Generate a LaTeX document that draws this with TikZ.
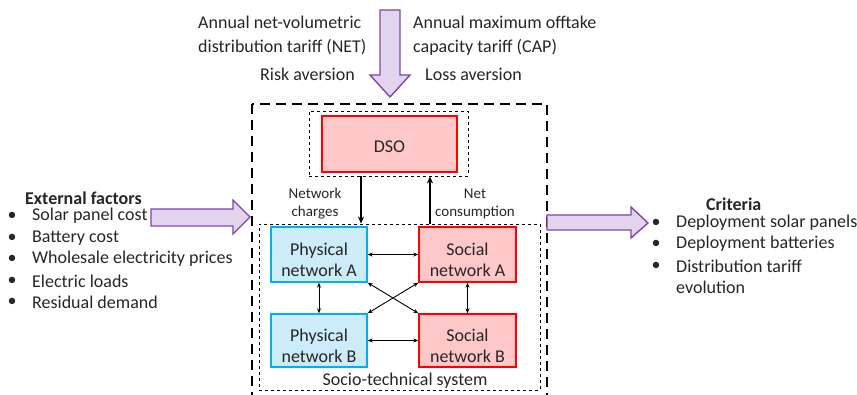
\documentclass[tikz,border=0pt]{standalone}
\usepackage{fontspec}
\setmainfont{Carlito}
\usetikzlibrary{calc}
\usetikzlibrary{arrows.meta}
\definecolor{txtgray}{RGB}{38,38,38}
\definecolor{arrowline}{RGB}{128,70,170}
\definecolor{arrowfill}{RGB}{226,212,236}
\definecolor{socline}{RGB}{255,0,0}
\definecolor{socfill}{RGB}{255,200,200}
\definecolor{phyline}{RGB}{0,176,240}
\definecolor{phyfill}{RGB}{204,236,250}
\tikzset{
  netbox/.style={line width=1.4pt,minimum width=96pt,minimum height=55pt,align=center,text=txtgray,font=\fontsize{18}{21}\selectfont},
  phybox/.style={netbox,draw=phyline,fill=phyfill},
  socbox/.style={netbox,draw=socline,fill=socfill,minimum width=97pt},
  dsobox/.style={netbox,draw=socline,fill=socfill,minimum width=135pt,minimum height=56pt},
  bigtext/.style={text=txtgray,font=\fontsize{18}{21}\selectfont,inner sep=0pt},
  smalltext/.style={text=txtgray,font=\fontsize{15}{18}\selectfont,align=center,inner sep=0pt},
  link/.style={line width=0.9pt,{Stealth[length=5pt,width=4pt]}-{Stealth[length=5pt,width=4pt]}},
  flow/.style={line width=1.8pt,-{Stealth[length=7pt,width=6pt]}},
  fatarrow/.style={draw=arrowline,fill=arrowfill,line width=1.4pt,line join=miter}
}
\newcommand{\lowtext}[2]{\rule{0pt}{24pt}#1\\#2}
\newcommand{\itemline}[4]{\node[bigtext] (#1b) at (#2,#3) {•};
  \node[bigtext,anchor=west] (#1) at (#2+20,#3) {#4};}

\begin{document}
\begin{tikzpicture}[x=1pt,y=-1pt]
        \clip (0,0) rectangle (857,395);
        %frames
        \draw[line width=2.4pt,dash pattern=on 10pt off 6pt] (252,104) rectangle (547,410);
        \node[draw,dashed,line width=0.9pt,minimum width=159pt,minimum height=65pt] (dsoframe) at (388.5,143.5) {};
        \node[draw,dashed,line width=0.9pt,minimum width=281pt,minimum height=166pt] (stsys) at (399.5,307) {};
        
        %boxes
        \node[dsobox] (dso) at (389.5,144) {\rule{0pt}{17pt}DSO};
        \node[phybox] (phyA) at (319,254.5) {\lowtext{Physical}{network A}};
        \node[socbox] (socA) at (467.5,254.5) {\lowtext{Social}{network A}};
        \node[phybox,minimum height=53pt] (phyB) at (319,340.5) {\lowtext{Physical}{network B}};
        \node[socbox,minimum height=53pt] (socB) at (467.5,340.5) {\lowtext{Social}{network B}};
        \node[bigtext] (stlabel) at (405,381) {Socio-technical system};
        
        %links inside the system
        \draw[link] (phyA.east) -- (socA.west);
        \draw[link] (phyB.east) -- (socB.west);
        \draw[link] (phyA.south) -- (phyB.north);
        \draw[link] (socA.south) -- (socB.north);
        \draw[link] (phyA.south east) -- (socB.north west);
        \draw[link] (socA.south west) -- (phyB.north east);
        
        %dso flows
        \draw[flow] ([xshift=-27.5pt]dsoframe.south) -- ([xshift=-38.5pt]stsys.north);
        \draw[flow] ([xshift=30.5pt]stsys.north) -- ([xshift=41.5pt]dsoframe.south);
        \node[smalltext] (charges) at (315,204) {Network\\charges};
        \node[smalltext] (netcons) at (475,204) {Net\\consumption};
        
        %fat arrows
        \draw[fatarrow] (380,10) -- (400,10) -- (400,75) -- (410,75) -- (390,97) -- (370,75) -- (380,75) -- cycle;
        \draw[fatarrow] (151,209) -- (233,209) -- (233,200) -- (250,217) -- (233,234) -- (233,226) -- (151,226) -- cycle;
        \draw[fatarrow] (547,215) -- (631,215) -- (631,207) -- (648,223) -- (631,238) -- (631,230) -- (547,230) -- cycle;
        
        %tariffs
        \node[bigtext,anchor=west] (net1) at (198,22) {Annual net-volumetric};
        \node[bigtext,anchor=west] (net2) at (198,47) {distribution tariff (NET)};
        \node[bigtext,anchor=west] (risk) at (260,74) {Risk aversion};
        \node[bigtext,anchor=west] (cap1) at (413,22) {Annual maximum offtake};
        \node[bigtext,anchor=west] (cap2) at (413,47) {capacity tariff (CAP)};
        \node[bigtext,anchor=west] (loss) at (425,74) {Loss aversion};
        
        %external factors
        \node[bigtext,anchor=west,font=\fontsize{18}{21}\selectfont\bfseries] (extf) at (25,198) {External factors};
        \itemline{ext1}{12}{216}{Solar panel cost}
        \itemline{ext2}{12}{238}{Battery cost}
        \itemline{ext3}{12}{259}{Wholesale electricity prices}
        \itemline{ext4}{12}{281}{Electric loads}
        \itemline{ext5}{12}{302}{Residual demand}
        
        %criteria
        \node[bigtext,anchor=west,font=\fontsize{18}{21}\selectfont\bfseries] (crit) at (706,204) {Criteria};
        \itemline{cri1}{656}{223}{Deployment solar panels}
        \itemline{cri2}{656}{244}{Deployment batteries}
        \itemline{cri3}{656}{266}{Distribution tariff}
        \node[bigtext,anchor=west] (cri4) at (676,287) {evolution};
\end{tikzpicture}
\end{document}
